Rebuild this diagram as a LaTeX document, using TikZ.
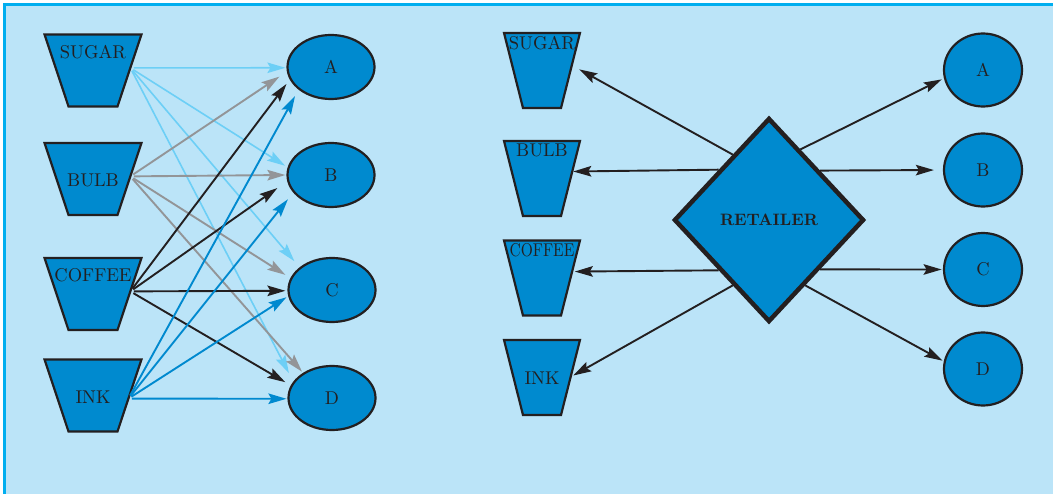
\documentclass[tikz,border=0pt]{standalone}
\usepackage{fontspec}
\setmainfont{lmroman10-regular.otf}[BoldFont=lmroman10-bold.otf]
\usepackage{graphicx}
\usetikzlibrary{shapes.geometric,arrows.meta}

\definecolor{bgblue}{RGB}{187,228,248}
\definecolor{frameblue}{RGB}{0,174,239}
\definecolor{nodeblue}{RGB}{0,138,207}
\definecolor{skyarrow}{RGB}{109,207,246}
\definecolor{greyarrow}{RGB}{147,149,152}
\definecolor{inkdark}{RGB}{35,31,32}
\definecolor{bluearrow}{RGB}{0,137,207}

\tikzset{
  lbl/.style={font=\fontsize{18.5}{20}\selectfont, text=inkdark},
  % cups: short side = text width, height = text height, slanted sides outside
  cupL/.style={trapezium, shape border rotate=180,
    trapezium left angle=71.6, trapezium right angle=71.6,
    inner sep=0pt, outer sep=0pt, text width=49pt, text height=72pt, text depth=0pt,
    draw=inkdark, line width=2.2pt, fill=nodeblue},
  cupR/.style={trapezium, shape border rotate=180,
    trapezium left angle=75.8, trapezium right angle=75.8,
    inner sep=0pt, outer sep=0pt, text width=38pt, text height=75pt, text depth=0pt,
    draw=inkdark, line width=2.2pt, fill=nodeblue},
  shopL/.style={ellipse, minimum width=87pt, minimum height=64pt, inner sep=0pt,
    draw=inkdark, line width=2.2pt, fill=nodeblue, lbl},
  shopR/.style={ellipse, minimum width=78pt, minimum height=73pt, inner sep=0pt,
    draw=inkdark, line width=2.2pt, fill=nodeblue, lbl},
  hub/.style={diamond, minimum width=190pt, minimum height=204pt, inner sep=0pt,
    draw=inkdark, line width=4.5pt, fill=nodeblue, text=inkdark,
    font=\fontsize{16.5}{18}\selectfont\bfseries},
  flow/.style={line width=1.9pt, -{Stealth[length=18pt,width=10.5pt,inset=3pt]}},
  fsugar/.style={flow, draw=skyarrow, fill=skyarrow, line width=1.6pt},
  fbulb/.style={flow, draw=greyarrow, fill=greyarrow},
  fcoffee/.style={flow, draw=inkdark, fill=inkdark},
  fink/.style={flow, draw=bluearrow, fill=bluearrow},
  fretail/.style={flow, draw=inkdark, fill=inkdark},
}

\begin{document}
\begin{tikzpicture}[x=1pt, y=-1pt]
\useasboundingbox (0,0) rectangle (1053,494);
% panel background and frame
\fill[white] (0,0) rectangle (1053,494);
\fill[bgblue] (4.5,4.5) rectangle (1053,494);
\draw[frameblue, line width=3pt] (4.5,494) -- (4.5,4.5) -- (1053,4.5);

% ---------- left: every product goes to every shop ----------
\node[cupL, label={[lbl, yshift=18.5pt]center:SUGAR}]  (sL) at (93,70.5) {};
\node[cupL, label={[lbl, yshift=-1pt]center:BULB}]     (bL) at (93,179) {};
\node[cupL, label={[lbl, yshift=19pt]center:COFFEE}]   (cL) at (93,294) {};
\node[cupL, label={[lbl, yshift=-1.5pt]center:INK}]    (iL) at (93,395.5) {};

\node[shopL] (A1) at (331,67)  {A};
\node[shopL] (B1) at (331,175) {B};
\node[shopL] (C1) at (332,290) {C};
\node[shopL] (D1) at (332,398) {D};

\begin{scope}[shorten <=3.5pt]
\draw[fsugar, shorten >=1pt]   (sL.4) -- (A1.181);
\draw[fsugar, shorten >=3pt]   (sL.4) -- (B1.170);
\draw[fsugar, shorten >=8pt]   (sL.4) -- (C1.145);
\draw[fsugar, shorten >=9.5pt] (sL.4) -- (D1.157);

\draw[fbulb, shorten >=9pt]    (bL.4) -- (A1.186.5);
\draw[fbulb, shorten >=1pt]    (bL.4) -- (B1.180);
\draw[fbulb, shorten >=6pt]    (bL.4) -- (C1.164.5);
\draw[fbulb, shorten >=1.6pt]  (bL.4) -- (D1.139);

\draw[fcoffee, shorten >=5.5pt] (cL.4) -- (A1.197);
\draw[fcoffee, shorten >=12pt]  (cL.4) -- (B1.188);
\draw[fcoffee, shorten >=2pt]   (cL.4) -- (C1.181);
\draw[fcoffee, shorten >=6.3pt] (cL.4) -- (D1.163.4);

\draw[fink, shorten >=7.4pt] (iL.355) -- (A1.215.4);
\draw[fink, shorten >=8.5pt] (iL.355) -- (B1.205);
\draw[fink, shorten >=2pt]   (iL.355) -- (C1.188.8);
\draw[fink, shorten >=1pt]   (iL.355) -- (D1.181);
\end{scope}

% ---------- right: a retailer between products and shops ----------
\node[cupR, label={[lbl, yshift=27.5pt]center:SUGAR}] (sR) at (542,70.5) {};
\node[cupR, label={[lbl, yshift=28.5pt]center:BULB}]  (bR) at (542,178.5) {};
\node[cupR, label={[lbl, yshift=28pt]center:\scalebox{0.84}[1]{COFFEE}}] (cR) at (542,278) {};
\node[cupR, label={[lbl, yshift=-0.5pt]center:INK}]   (iR) at (542,377.5) {};

\node[hub] (R) at (769,220) {RETAILER};

\node[shopR] (A2) at (983,70)  {A};
\node[shopR] (B2) at (983,170) {B};
\node[shopR] (C2) at (983,269.5) {C};
\node[shopR] (D2) at (983,369) {D};

\draw[fretail, shorten >=8.5pt] (R.119)   -- (sR.10.3);
\draw[fretail, shorten >=1pt]   (R.135.8) -- (bR.13.6);
\draw[fretail, shorten >=2.7pt] (R.225.6) -- (cR.12.2);
\draw[fretail, shorten >=3pt]   (R.241.2) -- (iR.1.4);

\draw[fretail, shorten >=2.4pt] (R.66.6)  -- (A2.192.3);
\draw[fretail, shorten >=9pt]   (R.44)    -- (B2.180);
\draw[fretail, shorten >=1.3pt] (R.316)   -- (C2.180);
\draw[fretail, shorten >=1.5pt] (R.299.3) -- (D2.169.8);
\end{tikzpicture}
\end{document}
